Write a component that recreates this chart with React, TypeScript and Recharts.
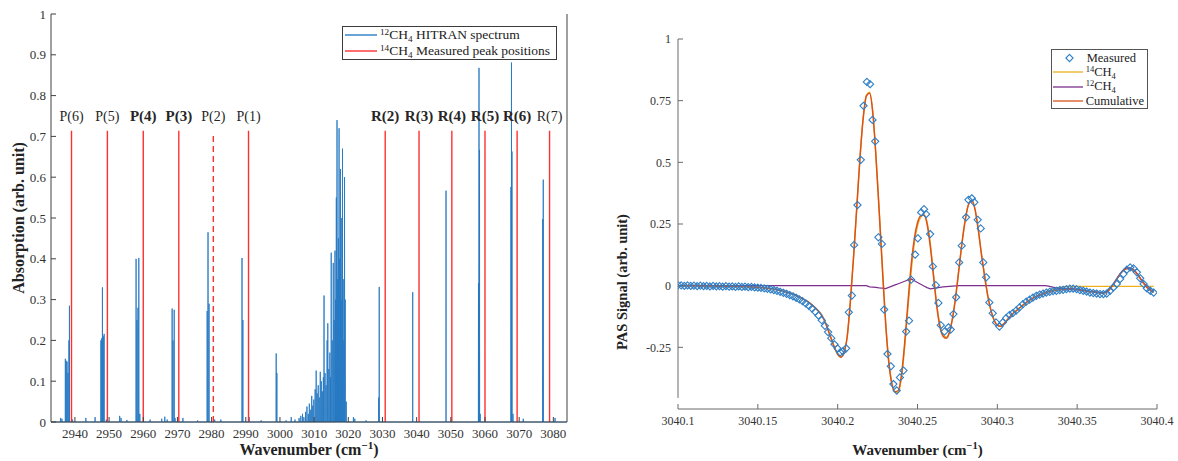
import React from 'react';
import { ComposedChart, Line, Scatter, XAxis, YAxis, ReferenceLine, Legend } from 'recharts';

const SERIF = '"Liberation Serif", "DejaVu Serif", serif';

// ---------------- Left panel: HITRAN 12CH4 spectrum ----------------
const hitranPeakWavenumber = [
  2935.8, 2936.2,
  2937.2, 2937.45, 2937.7, 2937.95, 2938.25, 2938.4,
  2939.3, 2943.2, 2945.9,
  2947.6, 2947.85, 2948.05, 2948.3, 2948.55, 2949.2,
  2953.1, 2953.5, 2955.2,
  2957.9, 2958.15, 2958.45, 2958.7, 2959.0,
  2962.0, 2965.4, 2966.3, 2967.0,
  2968.45, 2968.7, 2969.05, 2969.3,
  2971.6, 2975.9,
  2978.7, 2978.95, 2979.25, 2980.9, 2982.7,
  2988.9, 2989.15, 2991.0, 2994.5,
  2998.9, 2999.1, 3001.8, 3003.3, 3004.4,
  3005.6, 3006.1, 3006.6, 3007.0, 3007.5, 3007.9, 3008.3, 3008.6, 3009.0, 3009.3,
  3009.6, 3009.9, 3010.3, 3010.6, 3010.9, 3011.2, 3011.5, 3011.8, 3012.1, 3012.4,
  3012.7, 3012.9, 3013.2, 3013.5, 3013.8, 3014.0, 3014.3, 3014.6, 3014.8, 3015.0,
  3015.3, 3015.6, 3015.85, 3016.1, 3016.3, 3016.5, 3016.7, 3016.9, 3017.1, 3017.3,
  3017.5, 3017.7, 3017.9, 3018.1, 3018.3, 3018.5, 3018.7, 3018.9, 3019.1, 3019.4,
  3021.5, 3021.9, 3025.2,
  3028.9, 3029.05, 3038.85, 3048.6,
  3058.1, 3058.25, 3058.4, 3058.6,
  3067.6, 3067.75, 3067.9, 3068.2, 3071.2,
  3076.9, 3077.05, 3080.5,
];
const hitranPeakAbsorption = [
  0.010, 0.008,
  0.155, 0.150, 0.148, 0.120, 0.200, 0.285,
  0.006, 0.010, 0.012,
  0.200, 0.205, 0.330, 0.210, 0.216, 0.006,
  0.015, 0.010, 0.005,
  0.400, 0.250, 0.280, 0.402, 0.020,
  0.006, 0.008, 0.013, 0.006,
  0.278, 0.200, 0.275, 0.010,
  0.010, 0.004,
  0.272, 0.465, 0.290, 0.006, 0.006,
  0.402, 0.250, 0.012, 0.004,
  0.168, 0.120, 0.004, 0.012, 0.006,
  0.010, 0.015, 0.020, 0.012, 0.025, 0.038, 0.020, 0.045, 0.030, 0.064,
  0.040, 0.055, 0.080, 0.126, 0.070, 0.090, 0.060, 0.123, 0.100, 0.075,
  0.110, 0.310, 0.120, 0.090, 0.200, 0.242, 0.130, 0.170, 0.110, 0.415,
  0.200, 0.390, 0.250, 0.420, 0.300, 0.550, 0.740, 0.350, 0.450, 0.720,
  0.400, 0.620, 0.300, 0.500, 0.670, 0.350, 0.200, 0.600, 0.300, 0.050,
  0.012, 0.008, 0.004,
  0.060, 0.331, 0.318, 0.567,
  0.340, 0.868, 0.667, 0.020,
  0.576, 0.881, 0.663, 0.020, 0.008,
  0.497, 0.594, 0.010,
];
const hitranTicks = [2940, 2950, 2960, 2970, 2980, 2990, 3000, 3010, 3020, 3030, 3040, 3050, 3060, 3070, 3080];
const absorptionTicks = [0, 0.1, 0.2, 0.3, 0.4, 0.5, 0.6, 0.7, 0.8, 0.9, 1];

// 14CH4 measured peak positions
const peakLabels = ['P(6)', 'P(5)', 'P(4)', 'P(3)', 'P(2)', 'P(1)', 'R(2)', 'R(3)', 'R(4)', 'R(5)', 'R(6)', 'R(7)'];
const peakPositions = [2939.0, 2949.5, 2960.0, 2970.4, 2980.5, 2990.8, 3030.8, 3040.7, 3050.3, 3060.0, 3069.4, 3078.9];
const peakMarkerHeights = [0.714, 0.714, 0.714, 0.714, 0.704, 0.714, 0.714, 0.714, 0.714, 0.714, 0.714, 0.714];
const peakBold = [false, false, true, true, false, false, true, true, true, true, true, false];
const peakDashed = [false, false, false, false, true, false, false, false, false, false, false, false];

const SPECTRUM_RANGE = [2933, 3084];
const LINE_HALF_WIDTH = 0.04;

const spectrumRows = (() => {
  const order = hitranPeakWavenumber.map((_, i) => i).sort((a, b) => hitranPeakWavenumber[a] - hitranPeakWavenumber[b]);
  const rows: { wn: number; abs: number }[] = [{ wn: SPECTRUM_RANGE[0], abs: 0 }];
  for (const i of order) {
    const w = hitranPeakWavenumber[i];
    rows.push({ wn: w - LINE_HALF_WIDTH, abs: 0 }, { wn: w, abs: hitranPeakAbsorption[i] }, { wn: w + LINE_HALF_WIDTH, abs: 0 });
  }
  rows.push({ wn: SPECTRUM_RANGE[1], abs: 0 });
  return rows;
})();

// ---------------- Right panel: PAS signal around 3040.25 cm-1 ----------------
const measuredWavenumber = [
  3040.100, 3040.102, 3040.104, 3040.106, 3040.108, 3040.110, 3040.112, 3040.114, 3040.116, 3040.118,
  3040.120, 3040.122, 3040.124, 3040.126, 3040.128, 3040.130, 3040.132, 3040.134, 3040.136, 3040.138,
  3040.140, 3040.142, 3040.144, 3040.146, 3040.148, 3040.150, 3040.152, 3040.154, 3040.156, 3040.158,
  3040.160, 3040.162, 3040.164, 3040.166, 3040.168, 3040.170, 3040.172, 3040.174, 3040.176, 3040.178,
  3040.180, 3040.182, 3040.184, 3040.186, 3040.188, 3040.190, 3040.192, 3040.194, 3040.196, 3040.198,
  3040.2000, 3040.2016, 3040.2033, 3040.2053, 3040.2070, 3040.2089, 3040.2103, 3040.2124, 3040.2145, 3040.2162,
  3040.2183, 3040.2203, 3040.2218, 3040.2235, 3040.2255, 3040.2277, 3040.2291, 3040.2312, 3040.2333, 3040.2349,
  3040.2370, 3040.2390, 3040.2412, 3040.2429, 3040.2447, 3040.2460, 3040.2485, 3040.2502, 3040.2523, 3040.2541,
  3040.2554, 3040.2579, 3040.2596, 3040.2615, 3040.2631, 3040.2646, 3040.2669, 3040.2694, 3040.2708, 3040.2725,
  3040.2742, 3040.2761, 3040.2777, 3040.2804, 3040.2819, 3040.2840, 3040.2856, 3040.2877, 3040.2896, 3040.2912,
  3040.2930, 3040.2950, 3040.2971, 3040.2992, 3040.3013, 3040.3034, 3040.3055, 3040.3076, 3040.3097, 3040.3118,
  3040.3139, 3040.3160, 3040.3181, 3040.3202, 3040.3223, 3040.3244, 3040.3265, 3040.3286, 3040.3307, 3040.3328,
  3040.3349, 3040.3370, 3040.3391, 3040.3412, 3040.3433, 3040.3454, 3040.3475, 3040.3496, 3040.3517, 3040.3538,
  3040.3559, 3040.3580, 3040.3601, 3040.3622, 3040.3643, 3040.3664, 3040.3685, 3040.3706, 3040.3727, 3040.3748,
  3040.3769, 3040.3790, 3040.3811, 3040.3832, 3040.3853, 3040.3874, 3040.3895, 3040.3916, 3040.3937, 3040.3958,
  3040.3979,
];
const measuredSignal = [
  0.002, 0.001, -0.001, 0.001, -0.001, 0.000, -0.002, 0.000, -0.002, -0.001,
  -0.003, -0.001, -0.003, -0.002, -0.004, -0.002, -0.004, -0.003, -0.005, -0.003,
  -0.005, -0.004, -0.006, -0.005, -0.007, -0.008, -0.009, -0.011, -0.013, -0.015,
  -0.018, -0.021, -0.025, -0.029, -0.033, -0.038, -0.043, -0.049, -0.056, -0.063,
  -0.072, -0.082, -0.093, -0.106, -0.121, -0.140, -0.163, -0.188, -0.213, -0.238,
  -0.255, -0.270, -0.266, -0.254, -0.108, -0.040, 0.165, 0.327, 0.510, 0.729,
  0.826, 0.817, 0.672, 0.585, 0.196, 0.169, -0.097, -0.277, -0.327, -0.399,
  -0.425, -0.372, -0.344, -0.186, -0.142, 0.024, 0.126, 0.192, 0.297, 0.310,
  0.290, 0.209, 0.078, 0.002, -0.070, -0.160, -0.186, -0.169, -0.178, -0.115,
  -0.047, 0.094, 0.162, 0.277, 0.348, 0.354, 0.338, 0.267, 0.232, 0.094,
  0.034, -0.068, -0.112, -0.149, -0.166, -0.149, -0.132, -0.119, -0.111, -0.101,
  -0.088, -0.075, -0.065, -0.057, -0.048, -0.041, -0.036, -0.032, -0.028, -0.025,
  -0.022, -0.021, -0.018, -0.017, -0.014, -0.012, -0.012, -0.014, -0.018, -0.021,
  -0.024, -0.028, -0.030, -0.032, -0.034, -0.034, -0.032, -0.021, -0.007, 0.007,
  0.027, 0.047, 0.065, 0.074, 0.070, 0.054, 0.030, 0.007, -0.011, -0.021,
  -0.028,
];

const fitWavenumber = [
  3040.100, 3040.102, 3040.104, 3040.106, 3040.108, 3040.110, 3040.112, 3040.114, 3040.116, 3040.118,
  3040.120, 3040.122, 3040.124, 3040.126, 3040.128, 3040.130, 3040.132, 3040.134, 3040.136, 3040.138,
  3040.140, 3040.142, 3040.144, 3040.146, 3040.148, 3040.150, 3040.152, 3040.154, 3040.156, 3040.158,
  3040.160, 3040.162, 3040.164, 3040.166, 3040.168, 3040.170, 3040.172, 3040.174, 3040.176, 3040.178,
  3040.180, 3040.182, 3040.184, 3040.186, 3040.188, 3040.190, 3040.192, 3040.194, 3040.196, 3040.198,
  3040.200, 3040.202, 3040.204, 3040.206, 3040.208, 3040.210, 3040.212, 3040.214, 3040.216, 3040.218,
  3040.220, 3040.222, 3040.224, 3040.226, 3040.228, 3040.230, 3040.232, 3040.234, 3040.236, 3040.238,
  3040.240, 3040.242, 3040.244, 3040.246, 3040.248, 3040.250, 3040.252, 3040.254, 3040.256, 3040.258,
  3040.260, 3040.262, 3040.264, 3040.266, 3040.268, 3040.270, 3040.272, 3040.274, 3040.276, 3040.278,
  3040.280, 3040.282, 3040.284, 3040.286, 3040.288, 3040.290, 3040.292, 3040.294, 3040.296, 3040.298,
  3040.300, 3040.302, 3040.304, 3040.306, 3040.308, 3040.310, 3040.312, 3040.314, 3040.316, 3040.318,
  3040.320, 3040.322, 3040.324, 3040.326, 3040.328, 3040.330, 3040.332, 3040.334, 3040.336, 3040.338,
  3040.340, 3040.342, 3040.344, 3040.346, 3040.348, 3040.350, 3040.352, 3040.354, 3040.356, 3040.358,
  3040.360, 3040.362, 3040.364, 3040.366, 3040.368, 3040.370, 3040.372, 3040.374, 3040.376, 3040.378,
  3040.380, 3040.382, 3040.384, 3040.386, 3040.388, 3040.390, 3040.392, 3040.394, 3040.396, 3040.398,
];
const ch14Fit = [
  0, 0, 0, 0, 0, 0, -0.001, -0.001, -0.001, -0.001,
  -0.001, -0.001, -0.002, -0.002, -0.002, -0.002, -0.002, -0.003, -0.003, -0.003,
  -0.004, -0.004, -0.005, -0.005, -0.006, -0.007, -0.008, -0.009, -0.011, -0.012,
  -0.014, -0.017, -0.019, -0.022, -0.026, -0.030, -0.034, -0.040, -0.046, -0.053,
  -0.060, -0.068, -0.078, -0.090, -0.103, -0.120, -0.145, -0.180, -0.215, -0.250,
  -0.278, -0.290, -0.270, -0.205, -0.060, 0.120, 0.320, 0.520, 0.680, 0.770,
  0.785, 0.706, 0.527, 0.309, 0.080, -0.138, -0.303, -0.398, -0.433, -0.433,
  -0.373, -0.248, -0.093, 0.053, 0.170, 0.242, 0.277, 0.287, 0.258, 0.173,
  0.051, -0.071, -0.158, -0.200, -0.209, -0.187, -0.128, -0.039, 0.070, 0.180,
  0.270, 0.330, 0.345, 0.310, 0.230, 0.130, 0.040, -0.040, -0.100, -0.140,
  -0.160, -0.165, -0.155, -0.140, -0.125, -0.112, -0.101, -0.090, -0.079, -0.069,
  -0.060, -0.052, -0.045, -0.039, -0.034, -0.029, -0.023, -0.017, -0.012, -0.008,
  -0.006, -0.004, -0.003, -0.003, -0.003, -0.003, -0.003, -0.003, -0.003, -0.003,
  -0.003, -0.003, -0.003, -0.003, -0.003, -0.003, -0.003, -0.003, -0.003, -0.003,
  -0.003, -0.003, -0.003, -0.003, -0.003, -0.003, -0.003, -0.003, -0.003, -0.003,
];
const ch12Fit = [
  0, 0, 0, 0, 0, 0, 0, 0, 0, 0,
  0, 0, 0, 0, 0, 0, 0, 0, 0, 0,
  0, 0, 0, 0, 0, 0, 0, 0, 0, 0,
  0, 0, 0, 0, 0, 0, 0, 0, 0, 0,
  0, 0, 0, 0, 0, 0, 0, 0, 0, 0,
  0, 0, 0, 0, 0, 0, 0, 0, 0, 0,
  -0.005, -0.006, -0.007, -0.009, -0.010, -0.012, -0.007, -0.002, 0.003, 0.008,
  0.013, 0.018, 0.023, 0.027, 0.020, 0.013, 0.006, -0.001, -0.008, -0.013,
  -0.011, -0.009, -0.007, -0.005, -0.004, -0.003, -0.002, -0.001, 0, 0,
  0, 0, 0, 0, 0, 0, 0, 0, 0, 0,
  0, 0, 0, 0, 0, 0, 0, 0, 0, 0,
  0, 0, 0, 0, 0, 0, -0.002, -0.005, -0.008, -0.010,
  -0.011, -0.012, -0.012, -0.012, -0.013, -0.014, -0.016, -0.018, -0.020, -0.022,
  -0.023, -0.025, -0.027, -0.028, -0.025, -0.015, 0.001, 0.021, 0.041, 0.058,
  0.069, 0.073, 0.071, 0.062, 0.046, 0.027, 0.009, -0.006, -0.017, -0.024,
];
const cumulativeFit = [
  0, 0, 0, 0, 0, 0, -0.001, -0.001, -0.001, -0.001,
  -0.001, -0.001, -0.002, -0.002, -0.002, -0.002, -0.002, -0.003, -0.003, -0.003,
  -0.004, -0.004, -0.005, -0.005, -0.006, -0.007, -0.008, -0.009, -0.011, -0.012,
  -0.014, -0.017, -0.019, -0.022, -0.026, -0.030, -0.034, -0.040, -0.046, -0.053,
  -0.060, -0.068, -0.078, -0.090, -0.103, -0.120, -0.145, -0.180, -0.215, -0.250,
  -0.278, -0.290, -0.270, -0.205, -0.060, 0.120, 0.320, 0.520, 0.680, 0.770,
  0.780, 0.700, 0.520, 0.300, 0.070, -0.150, -0.310, -0.400, -0.430, -0.425,
  -0.360, -0.230, -0.070, 0.080, 0.190, 0.255, 0.283, 0.286, 0.250, 0.160,
  0.040, -0.080, -0.165, -0.205, -0.213, -0.190, -0.130, -0.040, 0.070, 0.180,
  0.270, 0.330, 0.345, 0.310, 0.230, 0.130, 0.040, -0.040, -0.100, -0.140,
  -0.160, -0.165, -0.155, -0.140, -0.125, -0.112, -0.101, -0.090, -0.079, -0.069,
  -0.060, -0.052, -0.045, -0.039, -0.034, -0.029, -0.025, -0.022, -0.020, -0.018,
  -0.017, -0.016, -0.015, -0.015, -0.016, -0.017, -0.019, -0.021, -0.023, -0.025,
  -0.026, -0.028, -0.030, -0.031, -0.028, -0.018, -0.002, 0.018, 0.038, 0.055,
  0.066, 0.070, 0.068, 0.059, 0.043, 0.024, 0.006, -0.009, -0.020, -0.027,
];
const pasXTicks = [3040.1, 3040.15, 3040.2, 3040.25, 3040.3, 3040.35, 3040.4];
const pasXTickLabels = ['3040.1', '3040.15', '3040.2', '3040.25', '3040.3', '3040.35', '3040.4'];
const pasYTicks = [-0.25, 0, 0.25, 0.5, 0.75, 1];
const pasYTickLabels = ['-0.25', '0', '0.25', '0.5', '0.75', '1'];
const PAS_AXIS_BOTTOM = -0.455;

const measuredRows = measuredWavenumber.map((wn, i) => ({ wn, sig: measuredSignal[i] }));
const fitRows = fitWavenumber.map((wn, i) => ({ wn, c14: ch14Fit[i], c12: ch12Fit[i], cum: cumulativeFit[i] }));

// ---------------- helpers ----------------
const DiamondMarker = (p: any) => {
  const { cx, cy } = p;
  if (cx == null || cy == null) return null;
  const r = 3.6;
  return (
    <path
      d={`M${cx},${cy - r}L${cx + r},${cy}L${cx},${cy + r}L${cx - r},${cy}Z`}
      fill="none"
      stroke="#2f7fc6"
      strokeWidth={1.1}
    />
  );
};

const XTitle = (props: any) => {
  const vb = props.viewBox || {};
  const { dyOffset, size } = props;
  const x = vb.x + vb.width / 2;
  const y = vb.y + dyOffset;
  return (
    <text x={x} y={y} textAnchor="middle" fontFamily={SERIF} fontWeight="bold" fontSize={size} fill="#222">
      Wavenumber (cm
      <tspan dy={-6} fontSize={size * 0.7}>−1</tspan>
      <tspan dy={6}>)</tspan>
    </text>
  );
};

const YTitle = (props: any) => {
  const vb = props.viewBox || {};
  const { text, xPos, yPos, size } = props;
  const x = vb.x + xPos;
  const y = vb.y + (yPos == null ? vb.height / 2 : yPos);
  return (
    <text
      x={x}
      y={y}
      transform={`rotate(-90 ${x} ${y})`}
      textAnchor="middle"
      dominantBaseline="central"
      fontFamily={SERIF}
      fontWeight="bold"
      fontSize={size}
      fill="#222"
    >
      {text}
    </text>
  );
};

const supStyle: React.CSSProperties = { fontSize: '0.68em', lineHeight: 0, verticalAlign: '0.45em' };
const subStyle: React.CSSProperties = { fontSize: '0.68em', lineHeight: 0, verticalAlign: '-0.3em' };

const LineSwatch = ({ color, width, stroke }: { color: string; width: number; stroke: number }) => (
  <svg width={width} height={8} style={{ display: 'block', flex: 'none' }}>
    <line x1={0} y1={4} x2={width} y2={4} stroke={color} strokeWidth={stroke} />
  </svg>
);

const HitranLegend = () => (
  <div
    style={{
      boxSizing: 'border-box',
      width: 215,
      height: 34,
      border: '1px solid #3c3c3c',
      background: '#fff',
      fontFamily: SERIF,
      fontSize: 13.5,
      color: '#222',
    }}
  >
    {[
      { color: '#2a7cc4', iso: '12', text: ' HITRAN spectrum' },
      { color: '#ff3030', iso: '14', text: ' Measured peak positions' },
    ].map((e) => (
      <div key={e.iso} style={{ display: 'flex', alignItems: 'center', height: 16, whiteSpace: 'nowrap' }}>
        <span style={{ marginLeft: 2, marginRight: 3 }}>
          <LineSwatch color={e.color} width={32} stroke={1.4} />
        </span>
        <span>
          <span style={supStyle}>{e.iso}</span>CH<span style={subStyle}>4</span>
          {e.text}
        </span>
      </div>
    ))}
  </div>
);

const PasLegend = () => (
  <div
    style={{
      boxSizing: 'border-box',
      width: 97,
      height: 60,
      border: '1px solid #555',
      background: '#fff',
      fontFamily: SERIF,
      fontSize: 12.5,
      color: '#222',
      paddingTop: 1,
    }}
  >
    <div style={{ display: 'flex', alignItems: 'center', height: 14.3 }}>
      <svg width={32} height={12} style={{ display: 'block', flex: 'none', marginLeft: 1, marginRight: 2 }}>
        <path d="M16.5,2.4L20.1,6L16.5,9.6L12.9,6Z" fill="none" stroke="#2f7fc6" strokeWidth={1.1} />
      </svg>
      <span>Measured</span>
    </div>
    {[
      { color: '#EDB120', iso: '14' as string | null },
      { color: '#7E2F8E', iso: '12' as string | null },
      { color: '#D95319', iso: null as string | null },
    ].map((e, i) => (
      <div key={i} style={{ display: 'flex', alignItems: 'center', height: 14.3, whiteSpace: 'nowrap' }}>
        <span style={{ marginLeft: 1, marginRight: 3 }}>
          <LineSwatch color={e.color} width={30} stroke={1.3} />
        </span>
        {e.iso ? (
          <span>
            <span style={supStyle}>{e.iso}</span>CH<span style={subStyle}>4</span>
          </span>
        ) : (
          <span>Cumulative</span>
        )}
      </div>
    ))}
  </div>
);

export default function App() {
  const leftTick = { fontSize: 13, fill: '#333', fontFamily: SERIF };
  const rightTick = { fontSize: 12, fill: '#333', fontFamily: SERIF };
  return (
    <div style={{ position: 'absolute', left: 0, top: 0, width: 1178, height: 461, background: '#fff' }}>
      <div style={{ position: 'absolute', left: 0, top: 0 }}>
        <ComposedChart width={590} height={461} data={spectrumRows} margin={{ top: 14, right: 22, bottom: 0, left: 0 }}>
          <XAxis
            xAxisId="b"
            dataKey="wn"
            type="number"
            domain={SPECTRUM_RANGE}
            allowDataOverflow
            ticks={hitranTicks}
            interval={0}
            tickSize={-5}
            tickMargin={12}
            height={39}
            stroke="#404040"
            tick={leftTick}
            label={{ content: (p: any) => <XTitle viewBox={p.viewBox} dyOffset={33} size={16} /> }}
          />
          <XAxis
            xAxisId="t"
            orientation="top"
            type="number"
            domain={SPECTRUM_RANGE}
            allowDataOverflow
            ticks={hitranTicks}
            interval={0}
            tick={false}
            tickSize={-5}
            height={0}
            stroke="#404040"
          />
          <YAxis
            yAxisId="l"
            type="number"
            domain={[0, 1]}
            ticks={absorptionTicks}
            interval={0}
            tickSize={-5}
            tickMargin={10}
            width={51}
            stroke="#404040"
            tick={leftTick}
            label={{ content: (p: any) => <YTitle viewBox={p.viewBox} text="Absorption (arb. unit)" xPos={18} size={16} /> }}
          />
          <YAxis
            yAxisId="r"
            orientation="right"
            type="number"
            domain={[0, 1]}
            ticks={absorptionTicks}
            interval={0}
            tick={false}
            tickSize={-5}
            width={1}
            stroke="#404040"
          />
          <Line
            xAxisId="b"
            yAxisId="l"
            type="linear"
            dataKey="abs"
            stroke="#2478c2"
            strokeOpacity={0.85}
            strokeWidth={1}
            dot={false}
            activeDot={false}
            isAnimationActive={false}
            name="12CH4 HITRAN spectrum"
          />
          {peakPositions.map((pos, i) => (
            <ReferenceLine
              key={peakLabels[i]}
              xAxisId="b"
              yAxisId="l"
              segment={[
                { x: pos, y: 0 },
                { x: pos, y: peakMarkerHeights[i] },
              ]}
              stroke="#ff3030"
              strokeWidth={1.4}
              strokeDasharray={peakDashed[i] ? '6 4' : undefined}
              label={{
                value: peakLabels[i],
                position: 'top',
                offset: peakDashed[i] ? 14 : 10,
                fontSize: peakBold[i] ? 15 : 14,
                fontWeight: peakBold[i] ? 'bold' : 'normal',
                fontFamily: SERIF,
                fill: '#262626',
              }}
            />
          ))}
          <Legend
            layout="vertical"
            verticalAlign="middle"
            align="center"
            wrapperStyle={{ left: 342, top: 26, width: 215, height: 34 }}
            content={() => <HitranLegend />}
          />
        </ComposedChart>
      </div>

      <div style={{ position: 'absolute', left: 590, top: 0 }}>
        <ComposedChart width={588} height={461} margin={{ top: 39, right: 21, bottom: 0, left: 0 }}>
          <XAxis
            dataKey="wn"
            type="number"
            domain={[3040.1, 3040.4]}
            allowDataOverflow
            ticks={pasXTicks}
            interval={0}
            tickFormatter={(v: number, i: number) => pasXTickLabels[i] ?? String(v)}
            tickSize={-5}
            tickMargin={12}
            height={52}
            stroke="#6a6a6a"
            tick={rightTick}
            label={{ content: (p: any) => <XTitle viewBox={p.viewBox} dyOffset={46} size={15} /> }}
          />
          <YAxis
            dataKey="sig"
            type="number"
            domain={[-0.5, 1]}
            allowDataOverflow
            ticks={pasYTicks}
            interval={0}
            tickFormatter={(v: number, i: number) => pasYTickLabels[i] ?? String(v)}
            axisLine={false}
            tickSize={-5}
            tickMargin={12}
            width={88}
            stroke="#6a6a6a"
            tick={rightTick}
            label={{ content: (p: any) => <YTitle viewBox={p.viewBox} text="PAS Signal (arb. unit)" xPos={31.7} yPos={243} size={14.5} /> }}
          />
          <ReferenceLine
            segment={[
              { x: 3040.1, y: PAS_AXIS_BOTTOM },
              { x: 3040.1, y: 1 },
            ]}
            stroke="#6a6a6a"
            strokeWidth={1}
          />
          <Scatter
            data={measuredRows}
            dataKey="sig"
            shape={DiamondMarker}
            isAnimationActive={false}
            name="Measured"
          />
          <Line
            data={fitRows}
            dataKey="c14"
            type="monotone"
            stroke="#EDB120"
            strokeWidth={1.3}
            dot={false}
            activeDot={false}
            isAnimationActive={false}
            name="14CH4"
          />
          <Line
            data={fitRows}
            dataKey="c12"
            type="linear"
            stroke="#7E2F8E"
            strokeWidth={1.2}
            dot={false}
            activeDot={false}
            isAnimationActive={false}
            name="12CH4"
          />
          <Line
            data={fitRows}
            dataKey="cum"
            type="monotone"
            stroke="#D95319"
            strokeWidth={1.5}
            dot={false}
            activeDot={false}
            isAnimationActive={false}
            name="Cumulative"
          />
          <Legend
            layout="vertical"
            verticalAlign="middle"
            align="center"
            wrapperStyle={{ left: 460.7, top: 49, width: 97, height: 60 }}
            content={() => <PasLegend />}
          />
        </ComposedChart>
      </div>
    </div>
  );
}
